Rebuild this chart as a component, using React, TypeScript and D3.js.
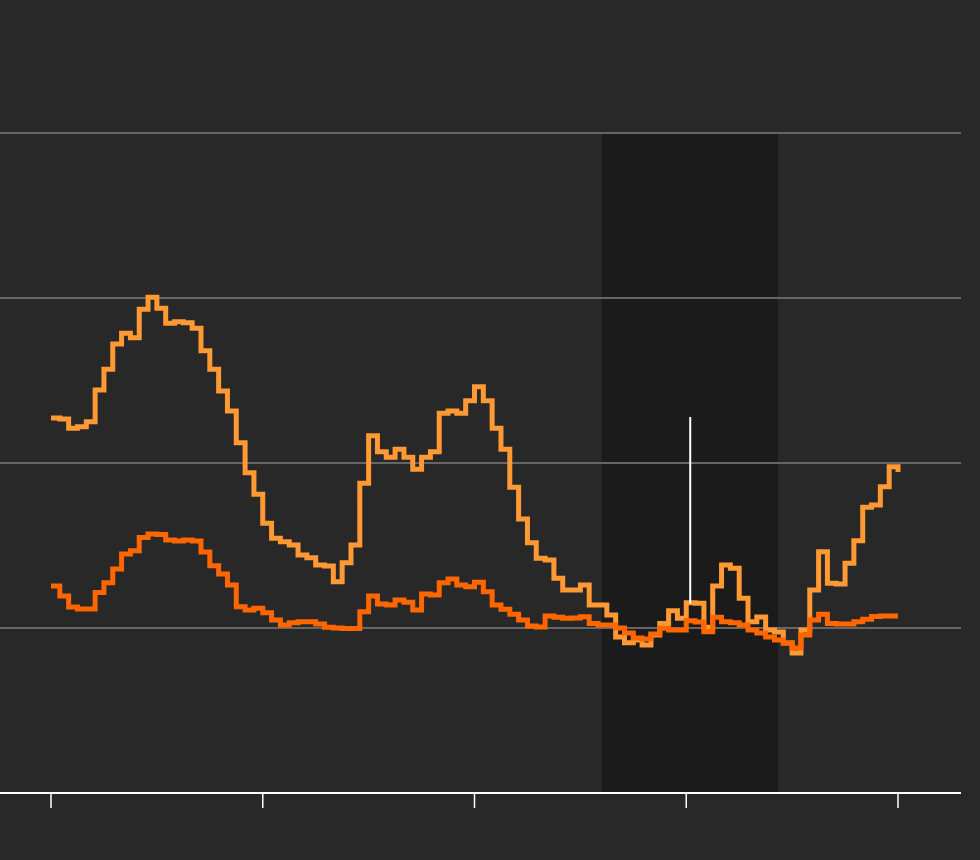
import React from "react";
import * as d3 from "d3";

// weekly index 0..96
const seriesLight: number[] = [
  2.273, 2.267, 2.21, 2.22, 2.25, 2.442, 2.568, 2.721, 2.786, 2.759,
  2.932, 3.004, 2.938, 2.847, 2.856, 2.85, 2.816, 2.681, 2.568, 2.436,
  2.315, 2.123, 1.941, 1.81, 1.635, 1.544, 1.523, 1.503, 1.442, 1.426,
  1.382, 1.376, 1.281, 1.396, 1.503, 1.877, 2.165, 2.068, 2.035, 2.083,
  2.035, 1.962, 2.035, 2.068, 2.301, 2.315, 2.301, 2.378, 2.462, 2.378,
  2.21, 2.083, 1.853, 1.661, 1.517, 1.422, 1.412, 1.301, 1.23, 1.23,
  1.261, 1.139, 1.139, 1.079, 0.945, 0.911, 0.927, 0.897, 0.958, 1.028,
  1.105, 1.059, 1.153, 1.15, 1.004, 1.255, 1.382, 1.362, 1.18, 1.038,
  1.067, 0.988, 0.976, 0.909, 0.848, 0.988, 1.23, 1.462, 1.271, 1.267,
  1.392, 1.529, 1.732, 1.745, 1.856, 1.978, 1.945,
];

const seriesDark: number[] = [
  1.255, 1.194, 1.127, 1.115, 1.115, 1.215, 1.275, 1.358, 1.448, 1.468,
  1.548, 1.57, 1.567, 1.533, 1.527, 1.533, 1.527, 1.461, 1.378, 1.327,
  1.261, 1.129, 1.109, 1.119, 1.093, 1.048, 1.018, 1.032, 1.038, 1.038,
  1.024, 1.004, 1.0, 0.997, 0.997, 1.099, 1.194, 1.145, 1.139, 1.17,
  1.156, 1.109, 1.206, 1.2, 1.275, 1.297, 1.261, 1.25, 1.277, 1.22,
  1.139, 1.113, 1.083, 1.048, 1.012, 1.006, 1.073, 1.065, 1.059, 1.061,
  1.068, 1.028, 1.018, 1.018, 1.0, 0.97, 0.939, 0.933, 0.964, 0.998,
  0.988, 0.988, 1.044, 1.036, 0.978, 1.065, 1.038, 1.032, 1.018, 0.988,
  0.97, 0.945, 0.927, 0.909, 0.879, 0.958, 1.048, 1.083, 1.028, 1.024,
  1.024, 1.038, 1.053, 1.07, 1.073, 1.073, 1.073,
];

const gridValues: number[] = [1, 2, 3, 4];
const tickIndices: number[] = [0, 24, 48, 72, 96];
const shadedRange: number[] = [62.45, 82.4];
const markerIndex: number[] = [72.45];
const markerRange: number[] = [1.148, 2.279];

const W = 980;
const H = 860;

export default function App() {
  const x = d3.scaleLinear().domain([0, 96]).range([51, 898]);
  const y = d3.scaleLinear().domain([0, 4]).range([793, 133]);

  const line = d3
    .line<number>()
    .x((_, i) => x(i))
    .y((d) => y(d))
    .curve(d3.curveStepAfter);

  return (
    <svg
      width={W}
      height={H}
      style={{ position: "absolute", left: 0, top: 0, display: "block" }}
    >
      <rect x={0} y={0} width={W} height={H} fill="#282828" />
      <rect
        x={x(shadedRange[0])}
        y={y(4)}
        width={x(shadedRange[1]) - x(shadedRange[0])}
        height={y(0) - y(4)}
        fill="#1b1b1b"
      />
      {gridValues.map((g) => (
        <line
          key={g}
          x1={0}
          x2={961}
          y1={y(g)}
          y2={y(g)}
          stroke="#666666"
          strokeWidth={2}
        />
      ))}
      <line x1={0} x2={961} y1={y(0)} y2={y(0)} stroke="#ffffff" strokeWidth={2} />
      {tickIndices.map((t) => (
        <line
          key={t}
          x1={x(t)}
          x2={x(t)}
          y1={y(0)}
          y2={y(0) + 15}
          stroke="#ffffff"
          strokeWidth={1.5}
        />
      ))}
      <path
        d={line(seriesLight) || ""}
        fill="none"
        stroke="#ff9933"
        strokeWidth={5}
        strokeLinejoin="miter"
        strokeLinecap="butt"
      />
      <path
        d={line(seriesDark) || ""}
        fill="none"
        stroke="#ff6600"
        strokeWidth={5}
        strokeLinejoin="miter"
        strokeLinecap="butt"
      />
      {markerIndex.map((m) => (
        <line
          key={m}
          x1={x(m)}
          x2={x(m)}
          y1={y(markerRange[1])}
          y2={y(markerRange[0])}
          stroke="#ffffff"
          strokeWidth={2}
        />
      ))}
    </svg>
  );
}
